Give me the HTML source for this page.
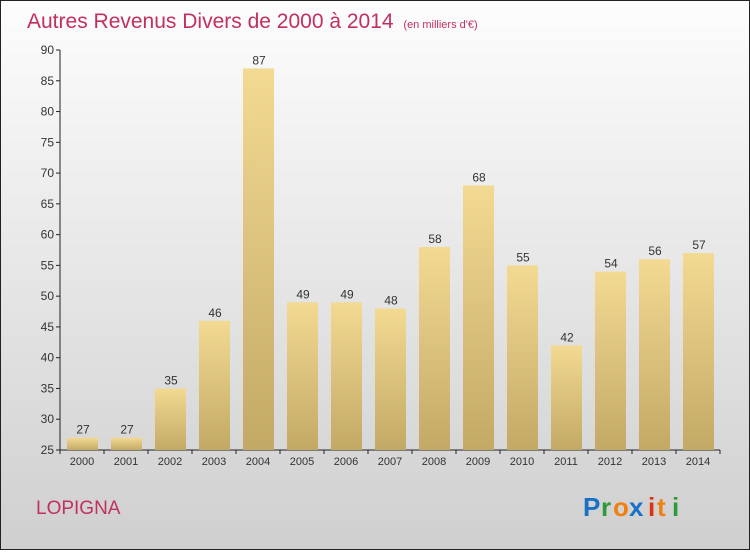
<!DOCTYPE html>
<html><head><meta charset="utf-8"><style>
body{margin:0;width:750px;height:550px;overflow:hidden}
svg text{font-family:"Liberation Sans",sans-serif}
</style></head><body>
<svg id="c" width="750" height="550" xmlns="http://www.w3.org/2000/svg">
<defs>
<linearGradient id="bg" x1="0" y1="0" x2="0" y2="1"><stop offset="0" stop-color="#fdfdfd"/><stop offset="1" stop-color="#cfcfcf"/></linearGradient>
<linearGradient id="bar" x1="0" y1="0" x2="0" y2="1"><stop offset="0" stop-color="#f3da93"/><stop offset="1" stop-color="#c2a965"/></linearGradient>
</defs>
<rect x="0.5" y="0.5" width="749" height="549" fill="url(#bg)" stroke="#222"/>
<text x="27" y="28" font-size="21" fill="#c2305e">Autres Revenus Divers de 2000 à 2014 <tspan font-size="11" dx="4">(en milliers d'€)</tspan></text>
<text x="36" y="514" font-size="19" fill="#c2305e">LOPIGNA</text>
<g font-size="26" font-weight="bold">
<text x="583" y="516" fill="#1a6fc7">P</text><text x="601" y="516" fill="#2a9a3a">r</text><text x="613" y="516" fill="#f08010">o</text><text x="629" y="516" fill="#1a6fc7">x</text><text x="648" y="516" fill="#e03010">i</text><text x="657" y="516" fill="#f08010">t</text><text x="672" y="516" fill="#2a9a3a">i</text>
</g>
<g id="axes"></g><g id="bars"></g>
</svg>
<script>
const categories=["2000","2001","2002","2003","2004","2005","2006","2007","2008","2009","2010","2011","2012","2013","2014"];
const values=[27,27,35,46,87,49,49,48,58,68,55,42,54,56,57];
const yTicks=[25,30,35,40,45,50,55,60,65,70,75,80,85,90];
const NS="http://www.w3.org/2000/svg";
const x0=60,slot=44,yMin=25,yMax=90,yTop=50,yBot=450;
const y=v=>yBot-(v-yMin)/(yMax-yMin)*(yBot-yTop);
const xs=i=>x0+i*slot;
function mk(t,a,p){const e=document.createElementNS(NS,t);for(const k in a)e.setAttribute(k,a[k]);p.appendChild(e);return e;}
const ax=document.getElementById('axes'),bs=document.getElementById('bars');
let l=mk('line',{x1:x0,y1:yTop,x2:x0,y2:yBot,stroke:'#222'},ax);


l=mk('line',{x1:x0,y1:yBot,x2:x0+slot*categories.length,y2:yBot,stroke:'#222'},ax);


yTicks.forEach(v=>{
 mk('line',{x1:x0-4,y1:y(v),x2:x0,y2:y(v),stroke:'#222'},ax);
 const t=mk('text',{x:x0-6,y:y(v)+4,'font-size':12,'text-anchor':'end',fill:'#333'},ax);t.textContent=v;
 
 
});
categories.forEach((c,i)=>{
 mk('line',{x1:xs(i),y1:yBot,x2:xs(i),y2:yBot+4,stroke:'#222'},ax);
 const t=mk('text',{x:xs(i)+slot/2,y:yBot+15,'font-size':11,'text-anchor':'middle',fill:'#333'},ax);t.textContent=c;
 
 
 const r=mk('rect',{x:xs(i)+7,y:y(values[i]),width:31,height:yBot-y(values[i]),fill:'url(#bar)'},bs);
 
 
 const v=mk('text',{x:xs(i)+slot/2+1,y:y(values[i])-4,'font-size':12,'text-anchor':'middle',fill:'#333'},bs);v.textContent=values[i];
 
 
});
mk('line',{x1:x0+slot*categories.length,y1:yBot,x2:x0+slot*categories.length,y2:yBot+4,stroke:'#222'},ax);
</script>
</body></html>
